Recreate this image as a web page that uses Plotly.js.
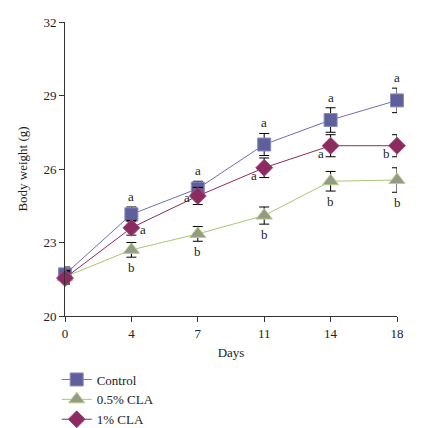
<!DOCTYPE html>
<html><head><meta charset="utf-8">
<script src="https://cdn.plot.ly/plotly-3.0.1.min.js"></script>
<style>body{margin:0;background:#fff}#c{width:435px;height:428px}</style>
</head><body><div id="c"></div>
<script>
const days = ["0","4","7","11","14","18"];
const control = [21.7, 24.15, 25.2, 27.0, 28.0, 28.8];
const controlErr = [0.3, 0.3, 0.3, 0.45, 0.5, 0.5];
const cla05 = [21.6, 22.7, 23.35, 24.1, 25.5, 25.55];
const cla05Err = [0.25, 0.3, 0.3, 0.35, 0.4, 0.5];
const cla1 = [21.55, 23.6, 24.9, 26.05, 26.95, 26.95];
const cla1Err = [0.25, 0.3, 0.35, 0.4, 0.45, 0.45];
const controlLetters = ["", "a", "a", "a", "a", "a"];
const cla05Letters = ["", "b", "b", "b", "b", "b"];
const cla1Letters = ["", "a", "a", "a", "a", "b"];

const font = "Liberation Serif, Times New Roman, serif";
const err = a => ({type:'data', array:a, visible:true, color:'#000', thickness:1, width:5});
const traces = [
  {x:days, y:control, name:'Control', mode:'lines+markers', error_y:err(controlErr),
   line:{color:'#6f6fae', width:1}, marker:{symbol:'square', size:13, color:'#5f5f9c', line:{color:'#8a8ac0', width:1}}, cliponaxis:false},
  {x:days, y:cla05, name:'0.5% CLA', mode:'lines+markers', error_y:err(cla05Err),
   line:{color:'#a8c870', width:1}, marker:{symbol:'triangle-up', size:14, color:'#939b86', line:{color:'#b4d080', width:1}}, cliponaxis:false},
  {x:days, y:cla1, name:'1% CLA', mode:'lines+markers', error_y:err(cla1Err),
   line:{color:'#8c2b60', width:1}, marker:{symbol:'diamond', size:13, color:'#8c2b60', line:{color:'#a04a78', width:1}}, cliponaxis:false}
];

const ann = [];
const af = {family:font, size:13, color:'#222'};
days.forEach((d,i)=>{
  if (controlLetters[i]) ann.push({x:i, y:control[i]+controlErr[i], text:controlLetters[i], showarrow:false, yanchor:'bottom', yshift:1, font:af});
  if (cla05Letters[i]) ann.push({x:i, y:cla05[i]-cla05Err[i], text:cla05Letters[i], showarrow:false, yanchor:'top', yshift:-1, font:af});
});
const cla1Pos = [null, {xs:12, ys:-2}, {xs:-11, ys:-2}, {xs:-10, ys:-8}, {xs:-10, ys:-8}, {xs:-11, ys:-8}];
days.forEach((d,i)=>{
  if (cla1Letters[i]) ann.push({x:i, y:cla1[i], text:cla1Letters[i], showarrow:false, xshift:cla1Pos[i].xs, yshift:cla1Pos[i].ys, font:af});
});

const layout = {
  width:435, height:428,
  margin:{l:65, r:38, t:22, b:112, autoexpand:false},
  paper_bgcolor:'#fff', plot_bgcolor:'#fff',
  font:{family:font, size:13, color:'#222'},
  showlegend:true,
  legend:{x:-0.025, y:-0.165, xanchor:'left', yanchor:'top', bgcolor:'rgba(0,0,0,0)', font:{family:font, size:13, color:'#222'}, tracegroupgap:0},
  xaxis:{type:'category', range:[0,5], showgrid:false, zeroline:false, showline:true, linecolor:'#333', linewidth:1,
         ticks:'outside', ticklen:5, tickcolor:'#333', title:{text:'Days', font:{family:font, size:13}, standoff:8}},
  yaxis:{range:[20,32], tickvals:[20,23,26,29,32], showgrid:false, zeroline:false, showline:true, linecolor:'#333', linewidth:1,
         ticks:'outside', ticklen:5, tickcolor:'#333', title:{text:'Body weight (g)', font:{family:font, size:13}, standoff:12}},
  annotations:ann
};
Plotly.newPlot('c', traces, layout, {displayModeBar:false, staticPlot:true});
</script></body></html>
